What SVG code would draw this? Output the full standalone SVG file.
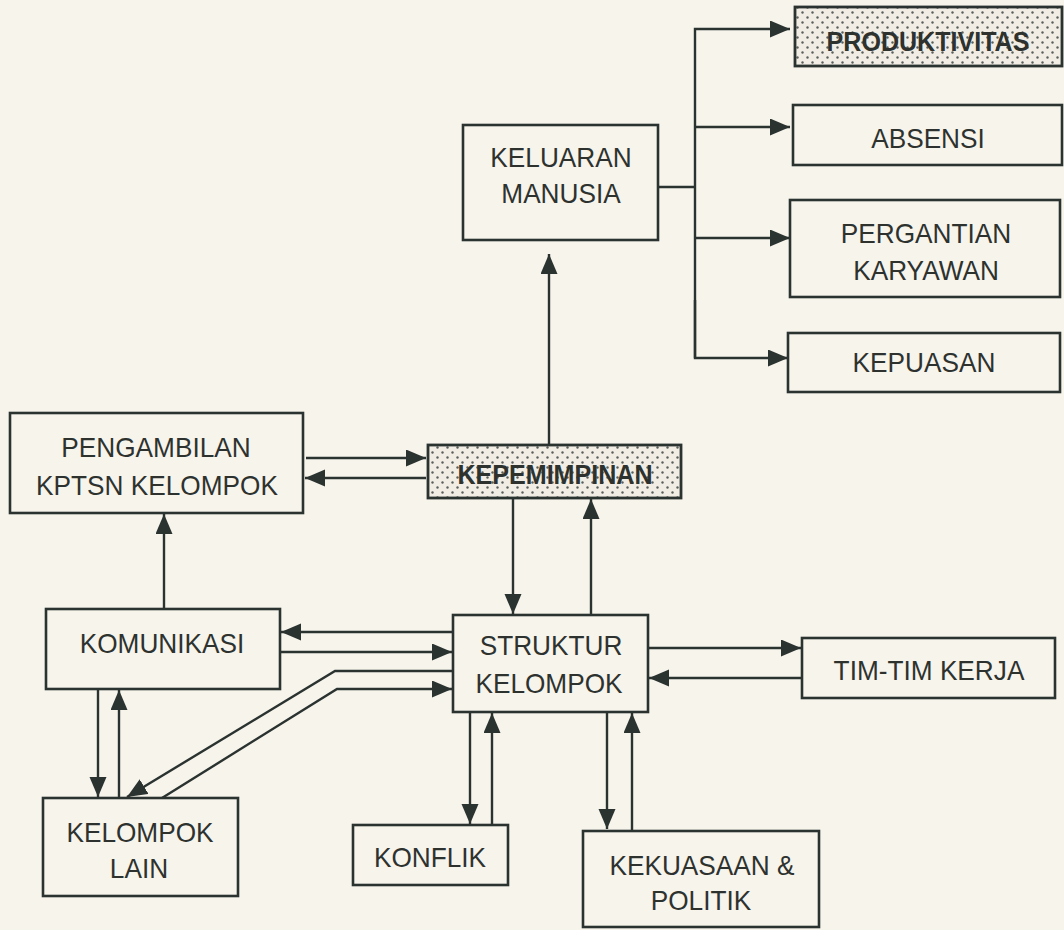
<svg xmlns="http://www.w3.org/2000/svg" width="1064" height="930" viewBox="0 0 1064 930">
  <defs>
    <pattern id="dots" width="10" height="10" patternUnits="userSpaceOnUse">
      <rect width="10" height="10" fill="#f1ede4"/>
      <circle cx="2.5" cy="2.5" r="1.2" fill="#5b5f5c"/>
      <circle cx="7.5" cy="7.5" r="1.2" fill="#5b5f5c"/>
    </pattern>
    <marker id="arr" markerUnits="userSpaceOnUse" markerWidth="21" markerHeight="18" refX="20" refY="8.5" orient="auto">
      <path d="M0,0 L20,8.5 L0,17 Z" fill="#2b3330"/>
    </marker>
  </defs>
  <style>
    .box { fill: none; stroke: #2b3330; stroke-width: 2.6; }
    .dot { fill: url(#dots); stroke: #2b3330; stroke-width: 2.8; }
    .lbl { font-family: "Liberation Sans", Arial, sans-serif; font-size: 28.5px; fill: #2d322f; text-anchor: middle; }
    .bold { font-weight: bold; }
    .ln { fill: none; stroke: #2b3330; stroke-width: 2.4; }
    .ar { marker-end: url(#arr); }
  </style>
  <rect width="1064" height="930" fill="#f7f4ec"/>

  <g id="connectors">
    <path class="ln" d="M658,187 H695"/>
    <path class="ln ar" d="M695,358 V29 H790"/>
    <path class="ln ar" d="M695,127 H790"/>
    <path class="ln ar" d="M695,238 H790"/>
    <path class="ln ar" d="M695,300 V358 H788"/>
    <path class="ln ar" d="M549,445 V254"/>
    <path class="ln ar" d="M306,458 H426"/>
    <path class="ln ar" d="M426,478 H305"/>
    <path class="ln ar" d="M513,498 V614"/>
    <path class="ln ar" d="M591,615 V499"/>
    <path class="ln ar" d="M164,608 V514"/>
    <path class="ln ar" d="M453,632 H281"/>
    <path class="ln ar" d="M280,652 H452"/>
    <path class="ln ar" d="M453,671 H335 L127,797"/>
    <path class="ln ar" d="M162,798 L337,689 H452"/>
    <path class="ln ar" d="M98,689 V797"/>
    <path class="ln ar" d="M119,798 V690"/>
    <path class="ln ar" d="M470,712 V824"/>
    <path class="ln ar" d="M492,825 V713"/>
    <path class="ln ar" d="M607,712 V829"/>
    <path class="ln ar" d="M632,831 V713"/>
    <path class="ln ar" d="M648,648 H801"/>
    <path class="ln ar" d="M802,678 H649"/>
  </g>

  <g id="produktivitas">
    <rect class="dot" x="795" y="7" width="267" height="59"/>
    <text class="lbl bold" transform="translate(928 51) scale(0.88 1)">PRODUKTIVITAS</text>
  </g>
  <g id="absensi">
    <rect class="box" x="793" y="105" width="269" height="60"/>
    <text class="lbl" transform="translate(928 148) scale(0.92 1)">ABSENSI</text>
  </g>
  <g id="pergantian">
    <rect class="box" x="790" y="200" width="270" height="97"/>
    <text class="lbl" transform="translate(926 243) scale(0.92 1)">PERGANTIAN</text>
    <text class="lbl" transform="translate(926 280) scale(0.92 1)">KARYAWAN</text>
  </g>
  <g id="kepuasan">
    <rect class="box" x="788" y="333" width="272" height="59"/>
    <text class="lbl" transform="translate(924 372) scale(0.92 1)">KEPUASAN</text>
  </g>
  <g id="keluaran">
    <rect class="box" x="463" y="125" width="195" height="115"/>
    <text class="lbl" transform="translate(561 167) scale(0.92 1)">KELUARAN</text>
    <text class="lbl" transform="translate(561 203) scale(0.92 1)">MANUSIA</text>
  </g>
  <g id="pengambilan">
    <rect class="box" x="10" y="413" width="293" height="100"/>
    <text class="lbl" transform="translate(156 457) scale(0.92 1)">PENGAMBILAN</text>
    <text class="lbl" transform="translate(157 495) scale(0.92 1)">KPTSN KELOMPOK</text>
  </g>
  <g id="kepemimpinan">
    <rect class="dot" x="428" y="445" width="253" height="53"/>
    <text class="lbl bold" transform="translate(555 484) scale(0.88 1)">KEPEMIMPINAN</text>
  </g>
  <g id="komunikasi">
    <rect class="box" x="46" y="609" width="234" height="80"/>
    <text class="lbl" transform="translate(162 653) scale(0.92 1)">KOMUNIKASI</text>
  </g>
  <g id="struktur">
    <rect class="box" x="453" y="615" width="195" height="97"/>
    <text class="lbl" transform="translate(551 655) scale(0.92 1)">STRUKTUR</text>
    <text class="lbl" transform="translate(549 693) scale(0.92 1)">KELOMPOK</text>
  </g>
  <g id="timtim">
    <rect class="box" x="802" y="638" width="253" height="60"/>
    <text class="lbl" transform="translate(929 680) scale(0.92 1)">TIM-TIM KERJA</text>
  </g>
  <g id="kelompoklain">
    <rect class="box" x="43" y="798" width="195" height="98"/>
    <text class="lbl" transform="translate(140 842) scale(0.92 1)">KELOMPOK</text>
    <text class="lbl" transform="translate(139 878) scale(0.92 1)">LAIN</text>
  </g>
  <g id="konflik">
    <rect class="box" x="353" y="825" width="155" height="60"/>
    <text class="lbl" transform="translate(430 867) scale(0.92 1)">KONFLIK</text>
  </g>
  <g id="kekuasaan">
    <rect class="box" x="583" y="831" width="236" height="96"/>
    <text class="lbl" transform="translate(702 875) scale(0.92 1)">KEKUASAAN &amp;</text>
    <text class="lbl" transform="translate(701 910) scale(0.92 1)">POLITIK</text>
  </g>
</svg>
